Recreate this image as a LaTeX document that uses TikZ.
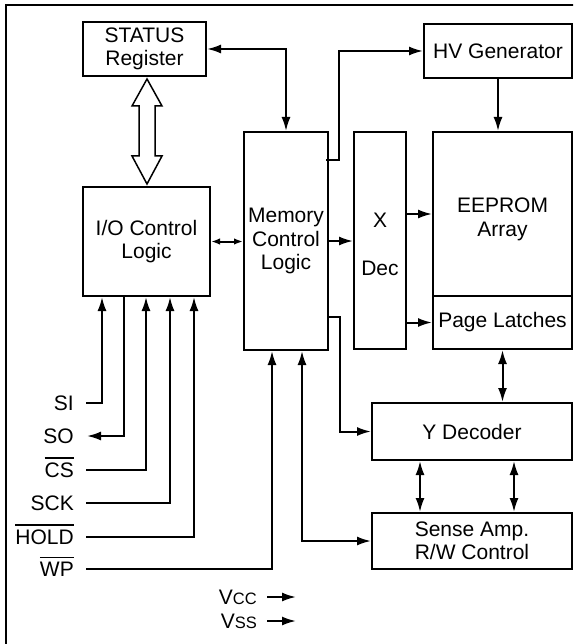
\documentclass[tikz,border=0pt]{standalone}
\usepackage{fontspec}
\setmainfont{Liberation Sans}
\usetikzlibrary{arrows.meta,calc}
\newcommand\ovl[1]{\setbox0=\hbox{#1}\rlap{\smash{\raisebox{\dimexpr\ht0+3.5pt\relax}{\rule{\wd0}{1.6pt}}}}\box0}
\begin{document}
\begin{tikzpicture}[x=1pt,y=-1pt,
  every node/.style={font=\fontsize{21}{23.5}\selectfont, inner sep=2pt},
  box/.style={draw, line width=2pt, align=center},
  txt/.style={align=center},
  wire/.style={line width=2pt},
  tip/.style={-{Latex[length=14pt,width=9pt]}},
  dtip/.style={{Latex[length=14pt,width=9pt]}-{Latex[length=14pt,width=9pt]}},
  stip/.style={{Latex[length=9pt,width=6.5pt]}-{Latex[length=9pt,width=6.5pt]}}]
\useasboundingbox (0,0) rectangle (573,644);
\clip (0,0) rectangle (573,644);
\draw[line width=2pt] (6,5) rectangle (600,700);

% blocks
\node[box, minimum width=123pt, minimum height=54pt] (status) at (144.5,49) {STATUS\\Register};
\node[box, minimum width=127pt, minimum height=109pt] (io) at (146.5,241.5) {I/O Control\\Logic};
\node[box, minimum width=84pt, minimum height=218pt] (mem) at (286,241) {Memory\\Control\\Logic};
\node[box, minimum width=148pt, minimum height=54pt] (hv) at (498,51) {HV Generator};
\node[box, minimum width=52pt, minimum height=217pt] (xdec) at (380,240.5) {};
\node[txt] (xdectext) at (380,244.5) {X\\[25pt]Dec};
\node[box, minimum width=139pt, minimum height=164pt] (eeprom) at (502.5,214) {};
\node[txt] (eetext) at (502.5,219.5) {EEPROM\\Array};
\node[box, minimum width=139pt, minimum height=53pt] (latches) at (502.5,322.5) {Page Latches};
\node[box, minimum width=200pt, minimum height=57pt] (ydec) at (472,431.5) {Y Decoder};
\node[box, minimum width=200pt, minimum height=56pt] (sense) at (472,541) {Sense Amp.\\R/W Control};

% hollow double arrow
\coordinate (hat) at ($(status.south)+(2.5,2)$);
\coordinate (hab) at ($(io.north)+(0.5,-2)$);
\draw[line width=1.5pt, fill=white] (hat) -- ($(hat)+(15,27)$) -- ($(hat)+(8,27)$) -- ($(hab)+(8,-28)$) -- ($(hab)+(15,-28)$) -- (hab) -- ($(hab)+(-15,-28)$) -- ($(hab)+(-8,-28)$) -- ($(hat)+(-8,27)$) -- ($(hat)+(-15,27)$) -- cycle;

% connectors among blocks
\draw[wire,dtip] (status.east) -| (mem.north);
\draw[wire,tip] ($(mem.east)+(-3,-81)$) -- ($(mem.east)+(10,-81)$) |- (hv.west);
\draw[wire,tip] (hv.south) -- (hv.south |- eeprom.north);
\draw[wire,stip] (io.east) -- (io.east -| mem.west);
\draw[wire,tip] (mem.east) -- (mem.east -| xdec.west);
\draw[wire,tip] (eeprom.west -| xdec.east) -- (eeprom.west);
\draw[wire,tip] (latches.west -| xdec.east) -- (latches.west);
\draw[wire,tip] ($(mem.east)+(0,76)$) -- ($(mem.east)+(11,76)$) |- (ydec.west);
\draw[wire,dtip] (latches.south) -- (latches.south |- ydec.north);
\draw[wire,dtip] ($(ydec.south)+(-52,0)$) -- ($(sense.north)+(-52,0)$);
\draw[wire,dtip] ($(ydec.south)+(42,0)$) -- ($(sense.north)+(42,0)$);
\draw[wire,dtip] ($(mem.south)+(16,0)$) |- (sense.west);

% pins
\node[anchor=east] (si) at (76,403) {SI};
\node[anchor=east] (so) at (76,436) {SO};
\node[anchor=east] (cs) at (76,470) {\ovl{CS}};
\node[anchor=east] (sck) at (76,503) {SCK};
\node[anchor=east] (hold) at (76,537) {\ovl{HOLD}};
\node[anchor=east] (wp) at (76,569) {\ovl{WP}};

\draw[wire,tip] ($(si.east)+(10,0)$) -| ($(io.south)+(-44.5,0)$);
\draw[wire,tip] ($(io.south)+(-22.5,0)$) |- ($(so.east)+(11,0)$);
\draw[wire,tip] ($(cs.east)+(10,0)$) -| ($(io.south)+(-0.5,0)$);
\draw[wire,tip] ($(sck.east)+(10,0)$) -| ($(io.south)+(23.5,0)$);
\draw[wire,tip] ($(hold.east)+(10,0)$) -| ($(io.south)+(47.5,0)$);
\draw[wire,tip] ($(wp.east)+(10,0)$) -| ($(mem.south)+(-14,0)$);

% supplies
\node[anchor=east] (vcc) at (259,597) {V{\fontsize{16.5}{16.5}\selectfont CC}};
\node[anchor=east] (vss) at (259,621) {V{\fontsize{16.5}{16.5}\selectfont SS}};
\coordinate (vccend) at (296,597);
\coordinate (vssend) at (296,621);
\draw[wire,tip] ($(vcc.east)+(8,0)$) -- (vccend);
\draw[wire,tip] ($(vss.east)+(8,0)$) -- (vssend);
\end{tikzpicture}
\end{document}
